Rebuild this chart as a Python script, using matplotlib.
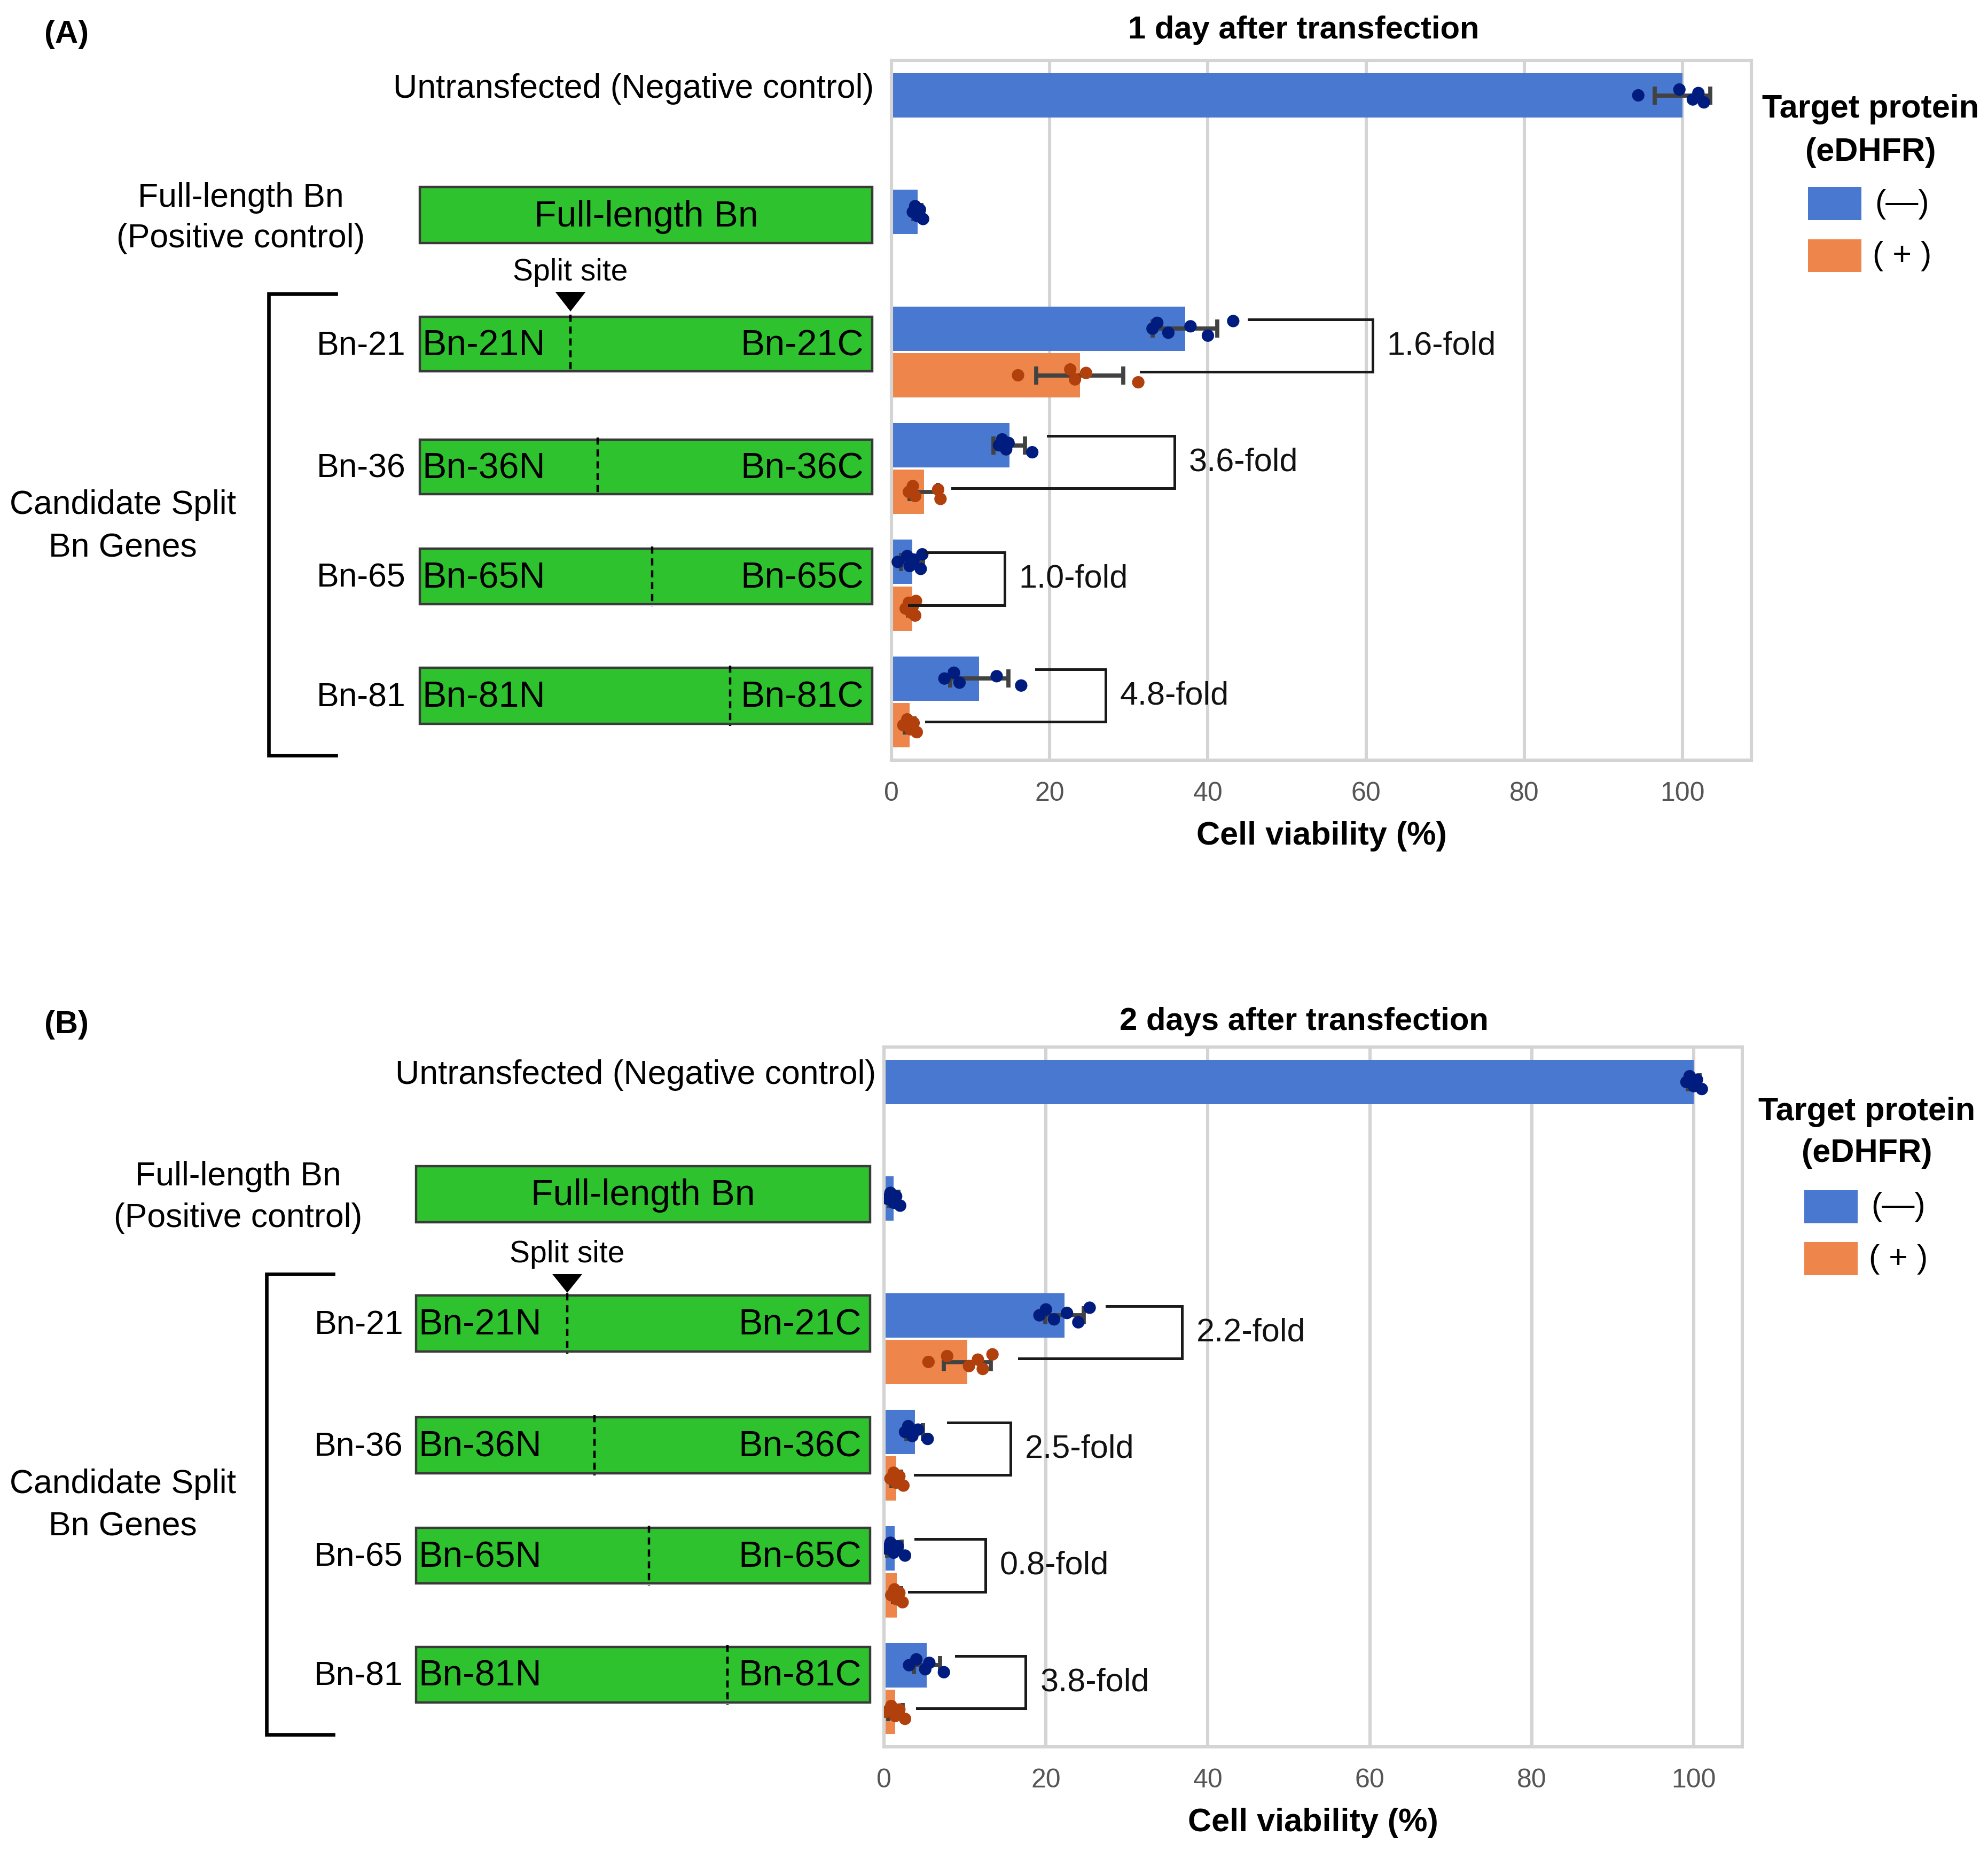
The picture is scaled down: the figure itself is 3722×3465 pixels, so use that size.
import matplotlib
matplotlib.use("Agg")
import matplotlib.pyplot as plt
from matplotlib.patches import Rectangle, Polygon
import numpy as np

# ---- figure size (pixels) ----
W, H = 3722, 3466
DPI = 200

plt.rcParams['font.family'] = ['Liberation Sans', 'DejaVu Sans']

BLUE = '#4878d0'
ORANGE = '#ee854a'
BLUE_DOT = '#001c7f'
ORANGE_DOT = '#b1400d'
GREEN = '#2ec22e'
GRID = '#d4d4d4'

categories = ["Untransfected (Negative control)", "Full-length Bn",
              "Bn-21", "Bn-36", "Bn-65", "Bn-81"]
split_names = ["Bn-21", "Bn-36", "Bn-65", "Bn-81"]
split_frac = [0.333, 0.393, 0.513, 0.686]   # split site position along the gene

# ---- 1 day after transfection ----
d1_minus = [100.0, 3.3, 37.1, 14.9, 2.6, 11.1]
d1_minus_sd = [3.5, 0.5, 4.1, 2.0, 1.4, 3.7]
d1_plus = [None, None, 23.8, 4.1, 2.6, 2.3]
d1_plus_sd = [None, None, 5.5, 1.8, 0.5, 0.6]
d1_minus_pts = [[94.4, 99.6, 101.3, 102.0, 102.7],
                [2.7, 3.0, 3.3, 3.6, 4.0],
                [33.0, 33.6, 35.0, 37.8, 40.0, 43.2],
                [13.6, 14.0, 14.5, 14.8, 17.8],
                [0.8, 2.0, 2.3, 2.8, 3.7, 3.9],
                [6.7, 7.9, 8.6, 13.3, 16.4]]
d1_plus_pts = [[], [],
               [16.0, 22.6, 23.2, 24.6, 31.2],
               [2.2, 2.7, 3.0, 5.9, 6.2],
               [1.8, 2.2, 2.5, 2.7, 3.0, 3.1],
               [1.5, 2.0, 2.4, 2.8, 3.2]]
d1_fold = ["1.6-fold", "3.6-fold", "1.0-fold", "4.8-fold"]
# bracket: start of upper arm, start of lower arm, vertical line
d1_br_top = [45.2, 19.8, 4.4, 18.3]
d1_br_bot = [31.5, 7.7, 2.2, 4.4]
d1_br_x = [60.8, 35.8, 14.3, 27.1]

# ---- 2 days after transfection ----
d2_minus = [100.0, 1.2, 22.3, 3.8, 1.3, 5.3]
d2_minus_sd = [0.7, 0.6, 2.4, 1.0, 0.9, 1.6]
d2_plus = [None, None, 10.3, 1.5, 1.6, 1.4]
d2_plus_sd = [None, None, 2.9, 0.6, 0.5, 0.9]
d2_minus_pts = [[99.1, 99.5, 100.0, 100.4, 101.0],
                [0.4, 0.8, 1.2, 1.5, 2.0],
                [19.2, 20.0, 21.0, 22.6, 24.0, 25.4],
                [2.6, 3.0, 3.5, 4.2, 5.4],
                [0.3, 0.8, 1.2, 1.7, 2.6],
                [3.1, 4.0, 5.1, 5.6, 7.4]]
d2_plus_pts = [[], [],
               [5.5, 7.8, 10.5, 11.6, 12.2, 13.4],
               [0.8, 1.2, 1.5, 1.9, 2.4],
               [0.9, 1.3, 1.6, 1.9, 2.3],
               [0.2, 0.9, 1.4, 1.9, 2.6]]
d2_fold = ["2.2-fold", "2.5-fold", "0.8-fold", "3.8-fold"]
d2_br_top = [27.5, 7.9, 3.9, 8.9]
d2_br_bot = [16.7, 3.8, 3.1, 4.1]
d2_br_x = [36.8, 15.6, 12.5, 17.5]

JITTER = [0.0, -0.05, 0.035, -0.02, 0.06, -0.065]

fig = plt.figure(figsize=(W / DPI, H / DPI), dpi=DPI)
fig.patch.set_facecolor('white')

# overlay axes in pixel coordinates for the gene diagrams / legend
ov = fig.add_axes([0, 0, 1, 1], zorder=0)
ov.set_xlim(0, W)
ov.set_ylim(H, 0)
ov.axis('off')


def px_axes(l, t, r, b):
    return fig.add_axes([l / W, 1 - b / H, (r - l) / W, (b - t) / H], zorder=1)


def draw_bars(ax, minus, minus_sd, plus, plus_sd, minus_pts, plus_pts,
              fold, br_top, br_bot, br_x, xmax):
    y = np.arange(len(categories))
    for vals, sds, pts, off, col, dcol in [(minus, minus_sd, minus_pts, -0.2, BLUE, BLUE_DOT),
                                           (plus, plus_sd, plus_pts, 0.2, ORANGE, ORANGE_DOT)]:
        idx = [i for i, v in enumerate(vals) if v is not None]
        ax.barh(y[idx] + off, [vals[i] for i in idx], height=0.38, color=col, zorder=2)
        ax.errorbar([vals[i] for i in idx], y[idx] + off, xerr=[sds[i] for i in idx],
                    fmt='none', ecolor='#424242', elinewidth=2.8, capsize=6,
                    capthick=2.8, zorder=3)
        for i in idx:
            p = pts[i]
            jy = [y[i] + off + JITTER[k % len(JITTER)] for k in range(len(p))]
            ax.scatter(p, jy, s=70, color=dcol, edgecolor='none', zorder=4)
    for k in range(len(fold)):
        c = y[k + 2]
        yt, yb = c - 0.28, c + 0.17
        ax.plot([br_top[k], br_x[k], br_x[k], br_bot[k]], [yt, yt, yb, yb],
                color='#1a1a1a', lw=1.8, zorder=5, solid_joinstyle='miter')
        ax.text(br_x[k] + 1.8, (yt + yb) / 2, fold[k], fontsize=22,
                va='center', ha='left', color='#111111')
    ax.set_ylim(5.5, -0.5)
    ax.set_xlim(0, xmax)
    ax.set_yticks([])
    ax.set_xticks([0, 20, 40, 60, 80, 100])
    ax.set_axisbelow(True)
    ax.xaxis.grid(True, color=GRID, lw=2.2)
    for s in ax.spines.values():
        s.set_color(GRID)
        s.set_linewidth(2.2)
    ax.tick_params(axis='x', length=0, labelsize=18, labelcolor='#555555', pad=14)
    ax.set_xlabel("Cell viability (%)", fontsize=22, fontweight='bold', labelpad=10)


def draw_diagram(box_l, box_r, box_rows, side_x, label_x, untr_xy, full_y,
                 split_y, tri_y, bracket_x, bracket_y, cand_y):
    # untransfected label
    ov.text(untr_xy[0], untr_xy[1], categories[0], fontsize=22.5,
            ha='right', va='center')
    # full-length label
    ov.text(label_x, full_y[0], "Full-length Bn", fontsize=22.5, ha='center', va='center')
    ov.text(label_x, full_y[1], "(Positive control)", fontsize=22.5, ha='center', va='center')
    # green boxes
    for r, (t, b) in enumerate(box_rows):
        ov.add_patch(Rectangle((box_l, t), box_r - box_l, b - t, facecolor=GREEN,
                               edgecolor='#3a3a3a', lw=1.6))
        cy = (t + b) / 2 + 2
        if r == 0:
            ov.text((box_l + box_r) / 2, cy, "Full-length Bn", fontsize=24.5,
                    ha='center', va='center')
            continue
        name = split_names[r - 1]
        sx = box_l + split_frac[r - 1] * (box_r - box_l)
        ov.plot([sx, sx], [t - 4, b + 4], color='black', lw=1.6, ls=(0, (3, 2)))
        ov.text(box_l + 4, cy, name + "N", fontsize=24.5, ha='left', va='center')
        ov.text(box_r - 16, cy, name + "C", fontsize=24.5, ha='right', va='center')
        ov.text(side_x, cy, name, fontsize=22.5, ha='right', va='center')
    # split site marker
    sx = box_l + split_frac[0] * (box_r - box_l)
    ov.text(sx, split_y, "Split site", fontsize=20.5, ha='center', va='center')
    ov.add_patch(Polygon([(sx - 28, tri_y[0]), (sx + 28, tri_y[0]), (sx, tri_y[1])],
                         closed=True, facecolor='black', edgecolor='none'))
    # bracket
    ov.plot([bracket_x[1], bracket_x[0], bracket_x[0], bracket_x[1]],
            [bracket_y[0], bracket_y[0], bracket_y[1], bracket_y[1]],
            color='black', lw=2.4, solid_joinstyle='miter')
    ov.text(230, cand_y[0], "Candidate Split", fontsize=22.5, ha='center', va='center')
    ov.text(230, cand_y[1], "Bn Genes", fontsize=22.5, ha='center', va='center')


def draw_legend(px, title_y, patch_rows):
    ov.text(px + 117, title_y[0], "Target protein", fontsize=22, fontweight='bold',
            ha='center', va='center')
    ov.text(px + 117, title_y[1], "(eDHFR)", fontsize=22, fontweight='bold',
            ha='center', va='center')
    for (t, b), col, lab in zip(patch_rows, [BLUE, ORANGE], ["(\u2014)", "( + )"]):
        ov.add_patch(Rectangle((px, t), 100, b - t, facecolor=col, edgecolor='none'))
        ov.text(px + 176, (t + b) / 2, lab, fontsize=22, ha='center', va='center')


# ---------------- panel A ----------------
axA = px_axes(1669, 114, 3279, 1424)
draw_bars(axA, d1_minus, d1_minus_sd, d1_plus, d1_plus_sd, d1_minus_pts, d1_plus_pts,
          d1_fold, d1_br_top, d1_br_bot, d1_br_x, 108.7)
ov.text(83, 64, "(A)", fontsize=21.5, fontweight='bold', ha='left', va='center')
ov.text(2441, 56, "1 day after transfection", fontsize=21.5, fontweight='bold',
        ha='center', va='center')
draw_diagram(786, 1633, [(351, 456), (594, 696), (824, 926), (1028, 1132), (1251, 1356)],
             760, 451, (1636, 166), (370, 446), 510, (548, 584), (503, 629), (551, 1415),
             (945, 1026))
draw_legend(3385, (204, 285), [(351, 413), (449, 510)])

# ---------------- panel B ----------------
axB = px_axes(1655, 1961, 3262, 3271)
draw_bars(axB, d2_minus, d2_minus_sd, d2_plus, d2_plus_sd, d2_minus_pts, d2_plus_pts,
          d2_fold, d2_br_top, d2_br_bot, d2_br_x, 106.0)
ov.text(83, 1918, "(B)", fontsize=21.5, fontweight='bold', ha='left', va='center')
ov.text(2441, 1912, "2 days after transfection", fontsize=21.5, fontweight='bold',
        ha='center', va='center')
draw_diagram(779, 1629, [(2184, 2289), (2426, 2531), (2654, 2759), (2861, 2965), (3084, 3188)],
             755, 446, (1640, 2013), (2203, 2281), 2348, (2386, 2421), (499, 624), (2386, 3248),
             (2778, 2858))
draw_legend(3378, (2082, 2160), [(2229, 2291), (2326, 2388)])

fig.savefig("out.png", dpi=DPI, facecolor='white')
